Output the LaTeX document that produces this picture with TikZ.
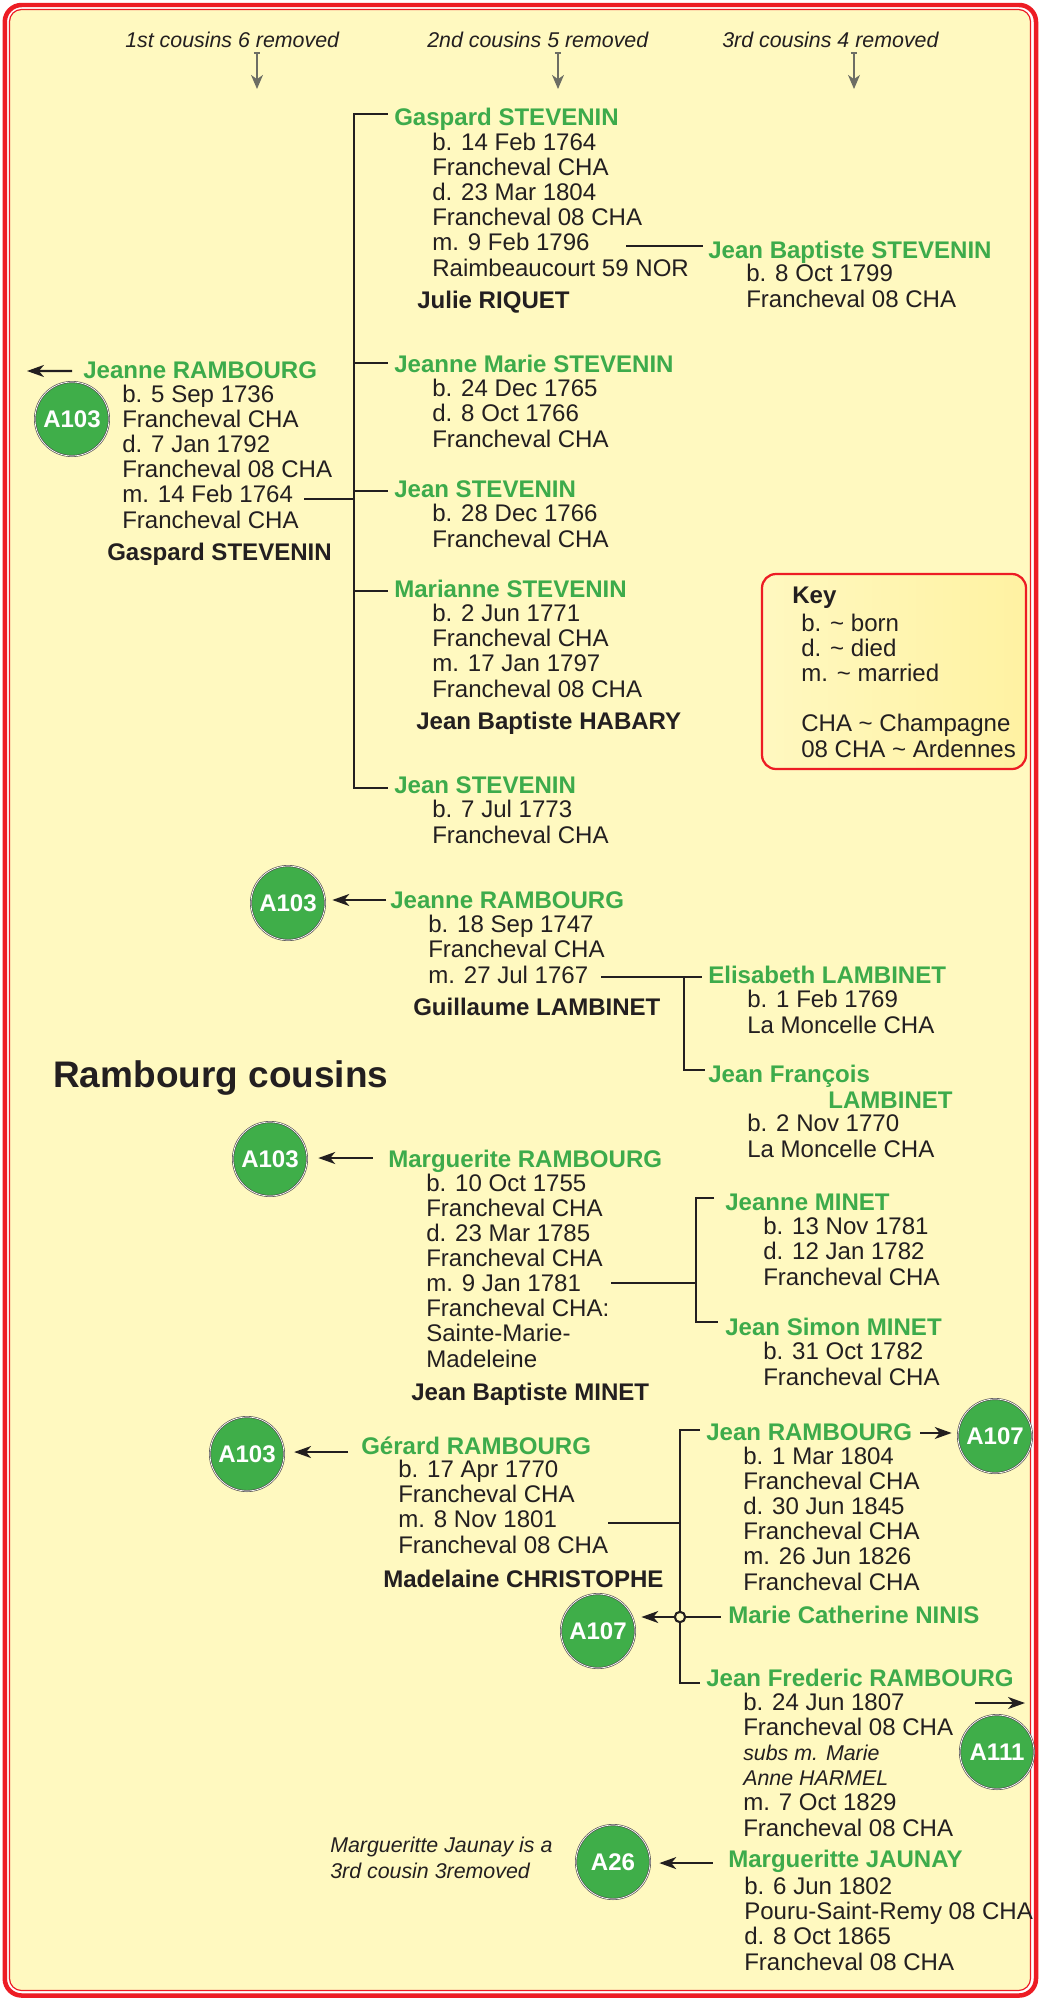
\documentclass[tikz,border=0pt]{standalone}
\usepackage{fontspec}
\setmainfont{Liberation Sans}
\usetikzlibrary{arrows.meta}
\definecolor{RBRed}{HTML}{ED1C24}
\definecolor{RBPaper}{HTML}{FFF9C0}
\definecolor{RBGreen}{HTML}{3DAB4B}
\definecolor{RBDisc}{HTML}{3FAE49}
\definecolor{RBInk}{HTML}{231F20}
\definecolor{RBGrey}{HTML}{6D6E64}
\definecolor{RBKeyLight}{HTML}{FFF8C0}
\definecolor{RBKeyDeep}{HTML}{FFF2A2}
\newcommand{\rbbody}{\fontsize{17.1pt}{17.8pt}\selectfont}
\newcommand{\rbnote}{\fontsize{15.2pt}{17.8pt}\selectfont}

\begin{document}
\begin{tikzpicture}[x=0.025cm,y=-0.025cm,
  person/.style={anchor=base west,inner sep=0pt,font=\rbbody\bfseries,text=RBGreen},
  facts/.style={anchor=base west,inner sep=0pt,align=left,font=\rbbody,text=RBInk},
  partner/.style={anchor=base west,inner sep=0pt,font=\rbbody\bfseries,text=RBInk},
  refdisc/.style={circle,minimum size=1.85cm,inner sep=0pt,fill=RBDisc,draw=RBInk!80,
    double=white,double distance=0.5pt,line width=0.45pt,font=\rbbody\bfseries,text=white},
  treeline/.style={RBInk,line width=1.5pt},
  linkarrow/.style={RBInk,line width=1.5pt,-{Stealth[length=12pt,width=8.5pt,inset=3.5pt]}},
  colhead/.style={anchor=base west,inner sep=0pt,font=\rbnote\itshape,text=RBInk},
  colarrow/.style={RBGrey,line width=0.8pt,{Bar[width=4.5pt]}-{Stealth[length=10pt,width=8.5pt,inset=3pt]}}]
\path[use as bounding box] (0,0) rectangle (1040,1999);
\fill[white] (0,0) rectangle (1040,1999);
\draw[RBRed,line width=3.2pt,rounded corners=0.42cm] (4.8,5) rectangle (1036,1995.5);
\filldraw[fill=RBPaper,draw=RBRed,line width=0.85pt,rounded corners=0.3cm] (9.5,9.5) rectangle (1030.5,1990.5);

% column headings
\node[colhead] (hd1) at (125,47) {1st cousins 6 removed};
\node[colhead] (hd2) at (427,47) {2nd cousins 5 removed};
\node[colhead] (hd3) at (722,47) {3rd cousins 4 removed};
\coordinate (hd1tip) at (257,89);
\coordinate (hd2tip) at (558,89);
\coordinate (hd3tip) at (854,89);
\draw[colarrow] ([yshift=-3.5pt]hd1.south -| hd1tip) -- (hd1tip);
\draw[colarrow] ([yshift=-3.5pt]hd2.south -| hd2tip) -- (hd2tip);
\draw[colarrow] ([yshift=-3.5pt]hd3.south -| hd3tip) -- (hd3tip);

% Jeanne Rambourg b.1736 and Gaspard Stevenin
% (facts blocks sit on the baseline of their last line)
\node[refdisc] (dA) at (72,419) {A103};
\node[person] (jrA) at (83,378) {Jeanne RAMBOURG};
\node[facts] (jrAf) at (122,528) {b. 5 Sep 1736\\Francheval CHA\\d. 7 Jan 1792\\Francheval 08 CHA\\m. 14 Feb 1764\\Francheval CHA};
\node[partner] (jrAp) at (107,560) {Gaspard STEVENIN};
\coordinate (jrAa) at ([xshift=-7.8pt,yshift=5pt]jrA.base west);
\coordinate (jrAout) at (27,371);
\draw[linkarrow] (jrAa) -- (jrAout);

\node[person] (gsA) at (394,125) {Gaspard STEVENIN};
\node[facts] (gsAf) at (432,276) {b. 14 Feb 1764\\Francheval CHA\\d. 23 Mar 1804\\Francheval 08 CHA\\m. 9 Feb 1796\\Raimbeaucourt 59 NOR};
\node[partner] (gsAp) at (417,308) {Julie RIQUET};
\node[person] (jbA) at (708,258) {Jean Baptiste STEVENIN};
\node[facts] (jbAf) at (746,307) {b. 8 Oct 1799\\Francheval 08 CHA};
\node[person] (jmA) at (394,372) {Jeanne Marie STEVENIN};
\node[facts] (jmAf) at (432,447) {b. 24 Dec 1765\\d. 8 Oct 1766\\Francheval CHA};
\node[person] (jsA) at (394,497) {Jean STEVENIN};
\node[facts] (jsAf) at (432,547) {b. 28 Dec 1766\\Francheval CHA};
\node[person] (msA) at (394,597) {Marianne STEVENIN};
\node[facts] (msAf) at (432,697) {b. 2 Jun 1771\\Francheval CHA\\m. 17 Jan 1797\\Francheval 08 CHA};
\node[partner] (msAp) at (416,729) {Jean Baptiste HABARY};
\node[person] (jtA) at (394,793) {Jean STEVENIN};
\node[facts] (jtAf) at (432,843) {b. 7 Jul 1773\\Francheval CHA};

\coordinate (kA0) at (354,114);
\coordinate (kA1) at (354,363);
\coordinate (kA2) at (354,491);
\coordinate (kA3) at (354,591);
\coordinate (kA4) at (354,788);
\coordinate (mA) at (304,499);
\coordinate (mA1) at (626,246);
\draw[treeline] (mA) -- (mA -| kA0);
\draw[treeline] ([xshift=-4.3pt]gsA.west |- kA0) -- (kA0) -- (kA4) -- ([xshift=-4.3pt]jtA.west |- kA4);
\draw[treeline] (kA1) -- ([xshift=-4.3pt]jmA.west |- kA1);
\draw[treeline] (kA2) -- ([xshift=-4.3pt]jsA.west |- kA2);
\draw[treeline] (kA3) -- ([xshift=-4.3pt]msA.west |- kA3);
\draw[treeline] (mA1) -- ([xshift=-3.5pt]jbA.west |- mA1);

% key
\draw[RBRed,line width=1.6pt,rounded corners=0.35cm,left color=RBKeyLight,right color=RBKeyDeep] (762,574) rectangle (1026,769);
\node[partner] (keyhd) at (792,603) {Key};
\node[facts] (keytx) at (801,757) {b. \textasciitilde{} born\\d. \textasciitilde{} died\\m. \textasciitilde{} married\\[17.8pt]CHA \textasciitilde{} Champagne\\08 CHA \textasciitilde{} Ardennes};

% Jeanne Rambourg b.1747 and Guillaume Lambinet
\node[refdisc] (dB) at (288,903) {A103};
\node[person] (jrB) at (390,908) {Jeanne RAMBOURG};
\node[facts] (jrBf) at (428,983) {b. 18 Sep 1747\\Francheval CHA\\m. 27 Jul 1767};
\node[partner] (jrBp) at (413,1015) {Guillaume LAMBINET};
\coordinate (jrBa) at ([xshift=-2.8pt,yshift=5.7pt]jrB.base west);
\draw[linkarrow,shorten >=5pt] (jrBa) -- (jrBa -| dB.east);
\node[person] (elB) at (708,983) {Elisabeth LAMBINET};
\node[facts] (elBf) at (747,1033) {b. 1 Feb 1769\\La Moncelle CHA};
\node[person,align=left] (jfB) at (708,1108) {Jean François\\\hspace*{85.4pt}LAMBINET};
\node[facts] (jfBf) at (747,1157) {b. 2 Nov 1770\\La Moncelle CHA};
\coordinate (mB) at (601,977);
\coordinate (kB0) at (684,977);
\coordinate (kB1) at (684,1070);
\draw[treeline] (mB) -- ([xshift=-4.3pt]elB.west |- mB);
\draw[treeline] (kB0) -- (kB1) -- ([xshift=-2.2pt]jfB.west |- kB1);

\node[anchor=base west,inner sep=0pt,font=\fontsize{26.3pt}{30pt}\selectfont\bfseries,text=RBInk] (title) at (53,1087) {Rambourg cousins};

% Marguerite Rambourg and Jean Baptiste Minet
\node[refdisc] (dC) at (270,1159) {A103};
\node[person] (mrC) at (388,1167) {Marguerite RAMBOURG};
\node[facts] (mrCf) at (426,1367) {b. 10 Oct 1755\\Francheval CHA\\d. 23 Mar 1785\\Francheval CHA\\m. 9 Jan 1781\\Francheval CHA:\\Sainte-Marie-\\Madeleine};
\node[partner] (mrCp) at (411,1400) {Jean Baptiste MINET};
\coordinate (mrCa) at ([xshift=-10.7pt,yshift=6.4pt]mrC.base west);
\draw[linkarrow,shorten >=7.8pt] (mrCa) -- (mrCa -| dC.east);
\node[person] (jnC) at (725,1210) {Jeanne MINET};
\node[facts] (jnCf) at (763,1285) {b. 13 Nov 1781\\d. 12 Jan 1782\\Francheval CHA};
\node[person] (jsC) at (725,1335) {Jean Simon MINET};
\node[facts] (jsCf) at (763,1385) {b. 31 Oct 1782\\Francheval CHA};
\coordinate (mC) at (611,1283);
\coordinate (kC0) at (696,1198);
\coordinate (kC1) at (696,1283);
\coordinate (kC2) at (696,1322);
\draw[treeline] (mC) -- (kC1);
\draw[treeline] ([xshift=-7.8pt]jnC.west |- kC0) -- (kC0) -- (kC2) -- ([xshift=-5pt]jsC.west |- kC2);

% Gerard Rambourg and Madelaine Christophe
\node[refdisc] (dD) at (247,1454) {A103};
\node[person] (grD) at (361,1454) {Gérard RAMBOURG};
\node[facts] (grDf) at (398,1553) {b. 17 Apr 1770\\Francheval CHA\\m. 8 Nov 1801\\Francheval 08 CHA};
\node[partner] (grDp) at (383,1587) {Madelaine CHRISTOPHE};
\coordinate (grDa) at ([xshift=-9.2pt,yshift=1.4pt]grD.base west);
\draw[linkarrow,shorten >=7pt] (grDa) -- (grDa -| dD.east);
\node[person] (jnD) at (706,1440) {Jean RAMBOURG};
\node[facts] (jnDf) at (743,1590) {b. 1 Mar 1804\\Francheval CHA\\d. 30 Jun 1845\\Francheval CHA\\m. 26 Jun 1826\\Francheval CHA};
\node[refdisc] (dF) at (995,1436) {A107};
\coordinate (jnDa) at ([xshift=5.7pt,yshift=5pt]jnD.base east);
\draw[linkarrow,shorten >=4.3pt] (jnDa) -- (jnDa -| dF.west);
\node[person] (mcD) at (728,1623) {Marie Catherine NINIS};
\node[refdisc] (dE) at (598,1631) {A107};
\node[person] (jfD) at (706,1686) {Jean Frederic RAMBOURG};
\node[facts] (jfDf) at (743,1836) {b. 24 Jun 1807\\Francheval 08 CHA\\{\rbnote\itshape subs m. Marie}\\{\rbnote\itshape Anne HARMEL}\\m. 7 Oct 1829\\Francheval 08 CHA};
\node[refdisc] (dG) at (997,1752) {A111};
\coordinate (jfDa) at (975,1703);
\coordinate (jfDb) at (1025,1703);
\draw[linkarrow] (jfDa) -- (jfDb);
\coordinate (mD) at (608,1523);
\coordinate (kD0) at (680,1430);
\coordinate (kD1) at (680,1523);
\coordinate (kD2) at (680,1683);
\draw[treeline] (mD) -- (kD1);
\draw[treeline] ([xshift=-4.3pt]jnD.west |- kD0) -- (kD0) -- (kD2) -- ([xshift=-4.3pt]jfD.west |- kD2);
\node[circle,draw=RBInk,fill=RBPaper,line width=1.5pt,minimum size=0.26cm,inner sep=0pt] (knD) at (680,1617) {};
\draw[treeline] (knD.east) -- ([xshift=-5pt]mcD.west |- knD);
\draw[linkarrow,shorten >=4.3pt] (knD.west) -- (knD -| dE.east);

% Margueritte Jaunay
\node[colhead,align=left] (noteH) at (330,1878) {Margueritte Jaunay is a\\3rd cousin 3removed};
\node[refdisc] (dH) at (613,1862) {A26};
\node[person] (mjH) at (728,1867) {Margueritte JAUNAY};
\node[facts] (mjHf) at (744,1970) {b. 6 Jun 1802\\Pouru-Saint-Remy 08 CHA\\d. 8 Oct 1865\\Francheval 08 CHA};
\coordinate (mjHa) at ([xshift=-10.7pt,yshift=2.8pt]mjH.base west);
\draw[linkarrow,shorten >=6.4pt] (mjHa) -- (mjHa -| dH.east);
\end{tikzpicture}
\end{document}
